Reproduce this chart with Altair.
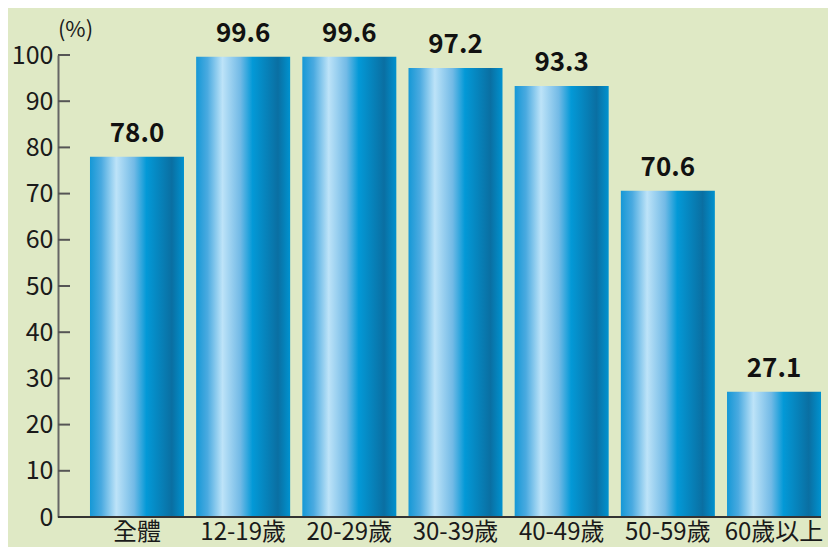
import altair as alt
import pandas as pd

categories = ["全體", "12-19歲", "20-29歲", "30-39歲", "40-49歲", "50-59歲", "60歲以上"]
values = [78.0, 99.6, 99.6, 97.2, 93.3, 70.6, 27.1]
labels = ["78.0", "99.6", "99.6", "97.2", "93.3", "70.6", "27.1"]
y_ticks = [0, 10, 20, 30, 40, 50, 60, 70, 80, 90, 100]

df = pd.DataFrame({"cat": categories, "val": values, "lab": labels})
ticks_df = pd.DataFrame({"t": y_ticks})

W, H = 763, 462
FONT = "Noto Sans CJK TC"
CJK = "Noto Sans CJK TC"

grad = alt.Gradient(
    gradient="linear", x1=0, x2=1, y1=0, y2=0,
    stops=[
        alt.GradientStop(color="#1598d6", offset=0.0),
        alt.GradientStop(color="#4aaae0", offset=0.12),
        alt.GradientStop(color="#bde3f8", offset=0.28),
        alt.GradientStop(color="#72bae6", offset=0.47),
        alt.GradientStop(color="#0399d7", offset=0.6),
        alt.GradientStop(color="#0a6fa2", offset=0.87),
        alt.GradientStop(color="#0092cf", offset=1.0),
    ],
)

xscale = alt.Scale(domain=categories, range=[32, W], paddingInner=0.115, paddingOuter=0)
yscale = alt.Scale(domain=[0, 100], nice=False)

bars = alt.Chart(df).mark_bar(color=grad, size=94).encode(
    x=alt.X("cat:N", scale=xscale, sort=categories,
            axis=alt.Axis(title=None, domain=False, ticks=False, labelAngle=0,
                          labelFont=CJK, labelFontSize=24, labelColor="#1a1a1a",
                          labelPadding=3, labelBaseline="top")),
    y=alt.Y("val:Q", scale=yscale,
            axis=alt.Axis(title="(%)", titleAngle=0, titleFont=FONT, titleFontSize=22,
                          titleFontWeight="normal", titleColor="#1a1a1a",
                          titleX=17, titleY=-19, titleAlign="center", titleBaseline="alphabetic",
                          values=y_ticks, ticks=False, grid=False,
                          domainColor="#666666", domainWidth=2,
                          labelFont=FONT, labelFontSize=25, labelColor="#1a1a1a",
                          labelPadding=5)),
)

text = alt.Chart(df).mark_text(font=FONT, fontSize=26, fontWeight="bold", color="#111111",
                               baseline="alphabetic", dy=-15).encode(
    x=alt.X("cat:N", scale=xscale, sort=categories),
    y=alt.Y("val:Q", scale=yscale),
    text="lab:N",
)

tick_marks = alt.Chart(ticks_df).mark_rule(color="#555555", strokeWidth=2).encode(
    y=alt.Y("t:Q", scale=yscale),
    x=alt.value(0),
    x2=alt.value(12),
)

baseline = alt.Chart(pd.DataFrame({"z": [0]})).mark_rule(color="#333333", strokeWidth=2).encode(
    y=alt.Y("z:Q", scale=yscale),
    x=alt.value(0),
    x2=alt.value(W),
)

chart = alt.layer(bars, tick_marks, baseline, text).properties(
    width=W, height=H,
    autosize=alt.AutoSizeParams(type="none"),
    padding={"left": 50, "top": 47, "right": 7, "bottom": 30},
    background="#dfe9c5",
).configure_view(stroke=None)

chart.save("out.html", embed_options={"renderer": "svg", "actions": False})
